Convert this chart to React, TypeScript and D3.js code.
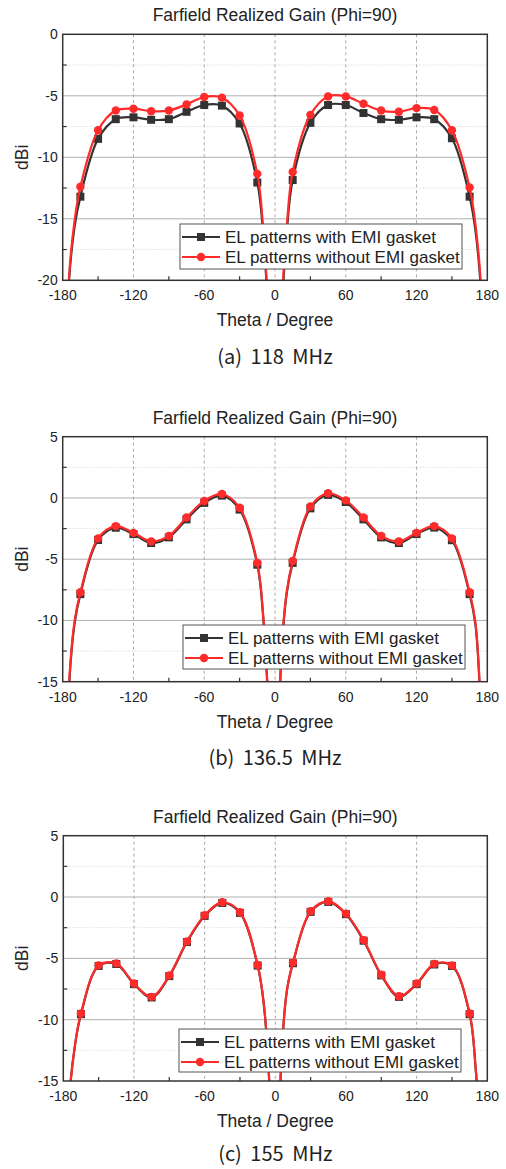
import React from 'react';
import * as d3 from 'd3';

// ---------- DATA ----------
const THETA = [-180, -175, -170, -165, -150, -135, -120, -105, -90, -75, -60, -45, -30, -15, -10, -5, 0, 5, 10, 15, 30, 45, 60, 75, 90, 105, 120, 135, 150, 165, 170, 175, 180];

// (a) 118 MHz
const A_WITH = [-40, -20.6, -15.7, -13.2, -8.5, -6.9, -6.75, -6.95, -6.9, -6.3, -5.75, -5.8, -7.25, -12.05, -16.3, -24.5, -40, -24.2, -16.1, -11.85, -7.2, -5.75, -5.75, -6.4, -6.9, -6.95, -6.75, -6.9, -8.45, -13.2, -16.0, -21.5, -40];
const A_WITHOUT = [-40, -20.3, -15.2, -12.4, -7.8, -6.2, -6.05, -6.25, -6.2, -5.7, -5.1, -5.15, -6.6, -11.35, -15.8, -24, -40, -23.5, -15.6, -11.2, -6.55, -5.05, -5.05, -5.65, -6.2, -6.3, -6.0, -6.15, -7.8, -12.45, -15.5, -21, -40];

// (b) 136.5 MHz
const B_WITH = [-40, -16.1, -10.3, -7.85, -3.43, -2.43, -2.95, -3.68, -3.22, -1.75, -0.4, 0.19, -0.95, -5.45, -9.75, -18.7, -40, -13.7, -7.75, -5.3, -0.85, 0.25, -0.33, -1.75, -3.22, -3.68, -2.95, -2.42, -3.45, -7.85, -10.4, -18.9, -40];
const B_WITHOUT = [-40, -15.9, -10.1, -7.7, -3.3, -2.3, -2.85, -3.55, -3.1, -1.6, -0.25, 0.32, -0.8, -5.3, -9.6, -18.5, -40, -13.5, -7.6, -5.15, -0.7, 0.38, -0.2, -1.6, -3.1, -3.55, -2.85, -2.3, -3.3, -7.7, -10.2, -18.7, -40];

// (c) 155 MHz
const C_WITH = [-40, -16.55, -12.05, -9.55, -5.62, -5.46, -7.1, -8.19, -6.45, -3.67, -1.54, -0.48, -1.29, -5.59, -8.55, -15.35, -40, -13.55, -7.55, -5.4, -1.21, -0.4, -1.4, -3.56, -6.39, -8.14, -7.1, -5.5, -5.62, -9.55, -13.85, -22.05, -40];
const C_WITHOUT = [-40, -16.5, -12.0, -9.5, -5.57, -5.41, -7.05, -8.14, -6.4, -3.62, -1.49, -0.43, -1.24, -5.54, -8.5, -15.3, -40, -13.5, -7.5, -5.35, -1.16, -0.35, -1.35, -3.51, -6.34, -8.09, -7.05, -5.45, -5.57, -9.5, -13.8, -22, -40];

const X_TICKS = [-180, -120, -60, 0, 60, 120, 180];
const X_MINOR = [-150, -90, -30, 30, 90, 150];
const Y_TICKS_A = [-20, -15, -10, -5, 0];
const Y_TICKS_BC = [-15, -10, -5, 0, 5];
const Y_DOMAIN_A: [number, number] = [-20, 0];
const Y_DOMAIN_BC: [number, number] = [-15, 5];

const TITLE = 'Farfield Realized Gain (Phi=90)';
const X_LABEL = 'Theta / Degree';
const Y_LABEL = 'dBi';
const LEGEND_LABELS = ['EL patterns with EMI gasket', 'EL patterns without EMI gasket'];
const CAPTIONS = ['(a) 118 MHz', '(b) 136.5 MHz', '(c) 155 MHz'];

const PANELS = [
  { id: 'a', withG: A_WITH, without: A_WITHOUT, domain: Y_DOMAIN_A, ticks: Y_TICKS_A, caption: CAPTIONS[0], capOff: 84,
    left: 62.7, right: 487.3, top: 34.3, bottom: 280.3, legend: { x: 180, y: 224, w: 282, h: 45 } },
  { id: 'b', withG: B_WITH, without: B_WITHOUT, domain: Y_DOMAIN_BC, ticks: Y_TICKS_BC, caption: CAPTIONS[1], capOff: 83,
    left: 62.7, right: 487.3, top: 436.7, bottom: 681.7, legend: { x: 183, y: 625, w: 282, h: 44 } },
  { id: 'c', withG: C_WITH, without: C_WITHOUT, domain: Y_DOMAIN_BC, ticks: Y_TICKS_BC, caption: CAPTIONS[2], capOff: 80,
    left: 63.3, right: 487.3, top: 835.7, bottom: 1081, legend: { x: 179, y: 1029, w: 282, h: 43 } },
];

const BLACK = '#333333';
const RED = '#ff2a2a';
const FONT = '"Liberation Sans", Arial, sans-serif';

function Panel({ p }: { p: typeof PANELS[number] }) {
  const x = d3.scaleLinear().domain([-180, 180]).range([p.left, p.right]);
  const y = d3.scaleLinear().domain(p.domain).range([p.bottom, p.top]);
  const line = d3.line<number>()
    .x((_, i) => x(THETA[i]))
    .y((d) => y(d))
    .curve(d3.curveCatmullRom.alpha(0.5));
  const minorY = p.ticks.slice(0, -1).map((t, i) => (t + p.ticks[i + 1]) / 2);
  const clipId = 'clip-' + p.id;
  const markIdx = THETA.map((t, i) => i).filter((i) => THETA[i] % 15 === 0);
  const cx = (p.left + p.right) / 2;
  const lg = p.legend;
  return (
    <g>
      <defs>
        <clipPath id={clipId}>
          <rect x={p.left} y={p.top} width={p.right - p.left} height={p.bottom - p.top} />
        </clipPath>
      </defs>
      {/* grid */}
      {minorY.map((t) => (
        <line key={'my' + t} x1={p.left} x2={p.right} y1={y(t)} y2={y(t)} stroke="#d0d0d0" strokeWidth={1} strokeDasharray="1,2" />
      ))}
      {p.ticks.filter((t) => t !== p.domain[0] && t !== p.domain[1]).map((t) => (
        <line key={'gy' + t} x1={p.left} x2={p.right} y1={y(t)} y2={y(t)} stroke="#b0b0b0" strokeWidth={1} />
      ))}
      {X_TICKS.filter((t) => t !== -180 && t !== 180).map((t) => (
        <line key={'gx' + t} x1={x(t)} x2={x(t)} y1={p.top} y2={p.bottom} stroke="#a8a8a8" strokeWidth={1} strokeDasharray="3,3" />
      ))}
      {/* ticks (inward) */}
      {X_MINOR.map((t) => (
        <line key={'tx' + t} x1={x(t)} x2={x(t)} y1={p.bottom} y2={p.bottom - 4} stroke={BLACK} strokeWidth={1.2} />
      ))}
      {minorY.map((t) => (
        <line key={'ty' + t} x1={p.left} x2={p.left + 4} y1={y(t)} y2={y(t)} stroke={BLACK} strokeWidth={1.2} />
      ))}
      {/* curves */}
      <g clipPath={`url(#${clipId})`}>
        <path d={line(p.withG) || ''} fill="none" stroke={BLACK} strokeWidth={2.2} />
        {markIdx.map((i) => (
          <rect key={'s' + i} x={x(THETA[i]) - 4} y={y(p.withG[i]) - 4} width={8} height={8} fill={BLACK} />
        ))}
        <path d={line(p.without) || ''} fill="none" stroke={RED} strokeWidth={2.2} />
        {markIdx.map((i) => (
          <circle key={'c' + i} cx={x(THETA[i])} cy={y(p.without[i])} r={4.2} fill={RED} />
        ))}
      </g>
      {/* frame */}
      <rect x={p.left} y={p.top} width={p.right - p.left} height={p.bottom - p.top} fill="none" stroke={BLACK} strokeWidth={1.5} />
      {/* tick labels */}
      {X_TICKS.map((t) => (
        <text key={'lx' + t} x={x(t)} y={p.bottom + 20} textAnchor="middle" fontSize={14} fontFamily={FONT} fill="#222">{t}</text>
      ))}
      {p.ticks.map((t) => (
        <text key={'ly' + t} x={p.left - 5} y={y(t) + 5} textAnchor="end" fontSize={14} fontFamily={FONT} fill="#222">{t}</text>
      ))}
      {/* titles */}
      <text x={cx} y={p.top - 13} textAnchor="middle" fontSize={17.5} fontFamily={FONT} fill="#222">{TITLE}</text>
      <text x={cx} y={p.bottom + 46} textAnchor="middle" fontSize={17.5} fontFamily={FONT} fill="#222">{X_LABEL}</text>
      <text transform={`translate(${28},${(p.top + p.bottom) / 2}) rotate(-90)`} textAnchor="middle" fontSize={17.5} fontFamily={FONT} fill="#222">{Y_LABEL}</text>
      <text x={cx} y={p.bottom + p.capOff} textAnchor="middle" fontSize={20} fontFamily='"Noto Sans CJK KR", sans-serif' fill="#222" wordSpacing={4}>{p.caption}</text>
      {/* legend */}
      <rect x={lg.x} y={lg.y} width={lg.w} height={lg.h} fill="#fff" stroke="#555" strokeWidth={1} />
      {[0, 1].map((k) => {
        const ry = lg.y + 13 + k * 20;
        return (
          <g key={'lg' + k}>
            <line x1={lg.x + 2} x2={lg.x + 40} y1={ry} y2={ry} stroke={k === 0 ? BLACK : RED} strokeWidth={2.2} />
            {k === 0
              ? <rect x={lg.x + 21 - 4} y={ry - 4} width={8} height={8} fill={BLACK} />
              : <circle cx={lg.x + 21} cy={ry} r={4.2} fill={RED} />}
            <text x={lg.x + 45} y={ry + 6} fontSize={17} fontFamily={FONT} fill="#222">{LEGEND_LABELS[k]}</text>
          </g>
        );
      })}
    </g>
  );
}

export default function App() {
  return (
    <svg width={506} height={1169} style={{ position: 'absolute', left: 0, top: 0, background: '#fff' }}>
      <rect x={0} y={0} width={506} height={1169} fill="#fff" />
      {PANELS.map((p) => <Panel key={p.id} p={p} />)}
    </svg>
  );
}
